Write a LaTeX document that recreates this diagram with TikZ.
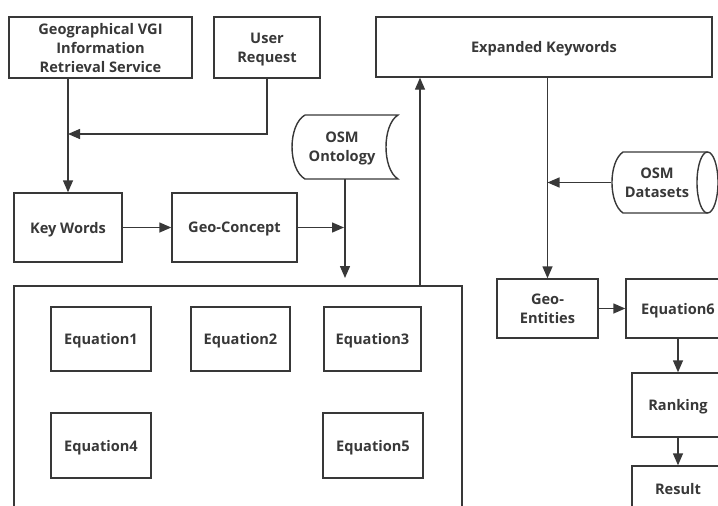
\documentclass[tikz,border=0pt]{standalone}
\usepackage{fontspec}
\setmainfont{Open Sans}
\usetikzlibrary{arrows.meta}
\definecolor{ink}{HTML}{383838}

\begin{document}
\begin{tikzpicture}[x=1pt,y=-1pt,
  line width=1.4pt,
  color=ink,
  lbl/.style={text=ink, align=center, inner sep=0pt, text depth=0pt,
    font=\bfseries\fontsize{14.6}{19}\selectfont},
  box/.style={lbl, draw=ink, fill=white, line width=1.4pt},
  arr/.style={draw=ink, line width=1.4pt, -{Triangle[length=12pt,width=10pt]}}]
\useasboundingbox (0,0) rectangle (718,506);
\clip (0,0) rectangle (718,506);
\fill[white] (0,0) rectangle (718,506);

% top row
\node[box, minimum width=183, minimum height=61] (vgi) at (100.5,47.5)
  {Geographical VGI\\Information\\Retrieval Service};
\node[box, minimum width=106, minimum height=61] (user) at (267,47.5) {User\\Request};
\node[box, minimum width=336, minimum height=60] (ek) at (544,47) {Expanded Keywords};

% second row
\node[box, minimum width=108, minimum height=69] (kw) at (68,227.5) {Key Words};
\node[box, minimum width=125, minimum height=69] (gc) at (234.5,227.5) {Geo-Concept};

% stored-data symbol: OSM Ontology
\draw (305,115) -- (398,115) .. controls (382,125) and (382,169) .. (398,179)
  -- (305,179) .. controls (287.7,169) and (287.7,125) .. (305,115);
\node[lbl, minimum width=100, minimum height=64] (onto) at (342,147) {OSM\\Ontology};

% cylinder: OSM Datasets
\draw (707.5,152) -- (623,152) .. controls (608.3,162) and (608.3,203) .. (623,213)
  -- (707.5,213);
\draw (707.5,182.5) ellipse [x radius=10.5, y radius=30.5];
\node[lbl, minimum width=90, minimum height=61] (ds) at (657,182.5) {OSM\\Datasets};

% container of the equations
\node[draw=ink, line width=1.4pt, minimum width=448, minimum height=240, inner sep=0pt]
  (cont) at (238,406) {};
\node[box, minimum width=100, minimum height=64] (eq1) at (101,339) {Equation1};
\node[box, minimum width=99, minimum height=64] (eq2) at (240.5,339) {Equation2};
\node[box, minimum width=97, minimum height=64] (eq3) at (372.5,339) {Equation3};
\node[box, minimum width=100, minimum height=65] (eq4) at (101,445.5) {Equation4};
\node[box, minimum width=100, minimum height=65] (eq5) at (373,445.5) {Equation5};

% right column
\node[box, minimum width=101, minimum height=59] (ge) at (547.5,308.5) {Geo-\\Entities};
\node[box, minimum width=104, minimum height=59] (eq6) at (678,308.5) {Equation6};
\node[box, minimum width=92, minimum height=64] (rank) at (678,405) {Ranking};
\node[box, minimum width=92, minimum height=46] (res) at (678,489) {Result};

% connectors
\coordinate (join) at (68,134);
\coordinate (ontoout) at (345,179);
\coordinate (ontoend) at (345,278);
\coordinate (ontohit) at (344,227.5);
\coordinate (contup) at (420,286);

\draw[arr] (vgi.south -| kw.north) -- (kw.north);
\draw[arr] (user.south) |- (join);
\draw[arr] (kw.east) -- (gc.west);
\draw[arr] (gc.east) -- (ontohit);
\draw[arr] (ontoout) -- (ontoend);
\draw[arr] (contup) -- (contup |- ek.south);
\draw[arr] (ek.south -| ge.north) -- (ge.north);
\draw[arr] (ds.west) -- (ds.west -| ge.north);
\draw[arr] (ge.east) -- (eq6.west);
\draw[arr] (eq6.south) -- (rank.north);
\draw[arr] (rank.south) -- (res.north);
\end{tikzpicture}
\end{document}
